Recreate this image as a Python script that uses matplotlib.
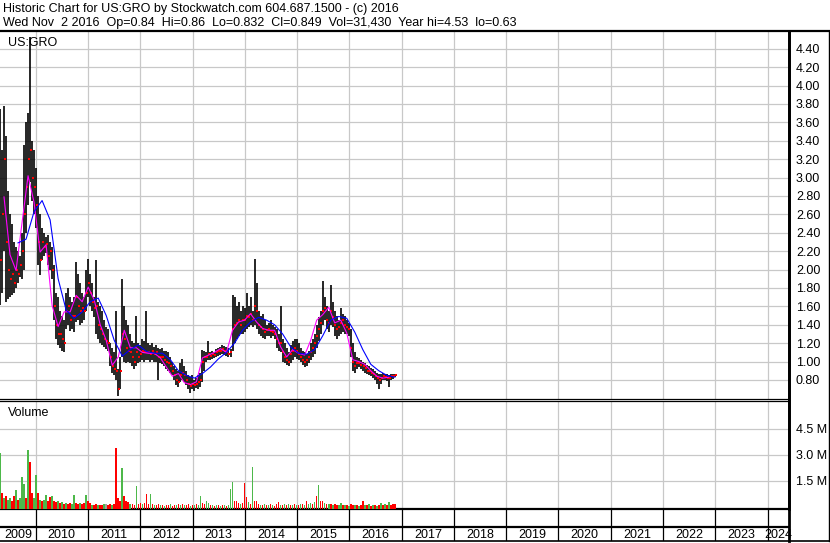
import numpy as np
import pandas as pd
import matplotlib
matplotlib.use('Agg')
import matplotlib.pyplot as plt
import matplotlib.dates as mdates
from matplotlib.lines import Line2D

plt.rcParams['font.family'] = ['Liberation Sans', 'DejaVu Sans']

# bi-weekly bars
bar_dates = pd.date_range('2009-04-27', periods=198, freq='14D')

hi = [3.75, 3.30, 3.78, 3.45, 2.85, 2.60, 2.50, 2.30, 2.25, 2.20,
      2.15, 2.40, 3.35, 3.60, 3.70, 4.53, 3.40, 3.30, 3.10, 2.80,
      2.60, 2.45, 2.40, 2.35, 2.38, 2.30, 2.25, 2.05, 1.75, 1.70,
      1.55, 1.50, 1.45, 1.75, 1.80, 1.70, 1.65, 1.70, 2.08, 1.95,
      1.85, 1.75, 1.70, 2.00, 2.12, 1.95, 1.85, 1.70, 2.10, 1.65,
      1.60, 1.55, 1.45, 1.38, 1.35, 1.20, 1.15, 1.10, 1.55, 0.92,
      1.05, 1.90, 1.60, 1.45, 1.40, 1.30, 1.22, 1.20, 1.50, 1.20,
      1.18, 1.25, 1.22, 1.55, 1.20, 1.18, 1.20, 1.16, 1.18, 1.15,
      1.14, 1.15, 1.12, 1.12, 1.10, 1.05, 1.00, 0.95, 0.92, 0.90,
      0.98, 1.03, 0.95, 0.90, 0.85, 0.83, 0.85, 0.80, 0.82, 0.85,
      0.88, 1.13, 1.12, 1.10, 1.22, 1.10, 1.12, 1.10, 1.14, 1.15,
      1.16, 1.18, 1.17, 1.16, 1.15, 1.14, 1.72, 1.70, 1.60, 1.65,
      1.55, 1.60, 1.58, 1.75, 1.60, 1.70, 1.55, 2.12, 1.85, 1.55,
      1.50, 1.52, 1.45, 1.40, 1.42, 1.45, 1.40, 1.38, 1.35, 1.30,
      1.60, 1.25, 1.20, 1.15, 1.10, 1.18, 1.22, 1.25, 1.24, 1.20,
      1.15, 1.12, 1.10, 1.08, 1.12, 1.20, 1.25, 1.30, 1.40, 1.48,
      1.55, 1.88, 1.70, 1.60, 1.55, 1.83, 1.65, 1.55, 1.50, 1.45,
      1.58, 1.52, 1.50, 1.45, 1.42, 1.35, 1.20, 1.10, 1.05, 1.04,
      1.02, 1.00, 0.98, 0.96, 0.95, 0.93, 0.92, 0.90, 0.88, 0.87,
      0.86, 0.88, 0.87, 0.86, 0.85, 0.86, 0.87, 0.86]

lo = [1.62, 1.75, 2.20, 1.65, 1.68, 1.70, 1.72, 1.75, 1.80, 1.85,
      1.92, 1.90, 2.00, 2.40, 2.70, 2.95, 2.75, 2.60, 2.45, 2.05,
      1.94, 2.10, 2.15, 2.18, 2.05, 2.00, 1.90, 1.45, 1.25, 1.18,
      1.15, 1.12, 1.10, 1.35, 1.40, 1.33, 1.35, 1.32, 1.43, 1.45,
      1.40, 1.42, 1.45, 1.55, 1.70, 1.60, 1.55, 1.48, 1.30, 1.25,
      1.20, 1.18, 1.16, 1.14, 1.12, 0.95, 0.88, 0.85, 0.80, 0.63,
      0.70, 1.05, 1.00, 0.98, 1.00, 0.98, 0.95, 0.92, 0.95, 0.98,
      1.00, 1.02, 1.00, 1.02, 1.02, 1.00, 1.02, 1.00, 1.00, 0.80,
      0.98, 0.97, 0.95, 0.92, 0.90, 0.88, 0.85, 0.80, 0.75, 0.72,
      0.78, 0.80, 0.78, 0.74, 0.70, 0.66, 0.70, 0.68, 0.71, 0.70,
      0.72, 0.78, 0.90, 1.00, 1.02, 1.02, 1.03, 1.04, 1.05, 1.06,
      1.07, 1.08, 1.07, 1.06, 1.05, 1.05, 1.12, 1.20, 1.25, 1.28,
      1.30, 1.30, 1.32, 1.35, 1.38, 1.40, 1.38, 1.40, 1.35, 1.30,
      1.28, 1.26, 1.25, 1.28, 1.28, 1.26, 1.28, 1.25, 1.15, 1.12,
      1.10, 1.00, 0.98, 0.96, 0.95, 0.98, 1.02, 1.05, 1.03, 1.02,
      1.00, 0.96, 0.94, 0.95, 0.98, 1.02, 1.05, 1.08, 1.15, 1.22,
      1.30, 1.40, 1.45, 1.35, 1.32, 1.40, 1.38, 1.28, 1.25, 1.28,
      1.30, 1.32, 1.30, 1.30, 1.28, 1.05, 0.90, 0.88, 0.92, 0.94,
      0.92, 0.90, 0.88, 0.86, 0.85, 0.84, 0.82, 0.80, 0.76, 0.70,
      0.76, 0.80, 0.80, 0.79, 0.72, 0.80, 0.81, 0.83]

cl = [2.10, 2.60, 3.20, 2.30, 2.00, 1.90, 1.95, 1.85, 2.00, 1.95,
      2.05, 2.20, 2.60, 2.90, 3.20, 3.30, 3.00, 2.90, 2.70, 2.30,
      2.10, 2.30, 2.25, 2.28, 2.15, 2.20, 2.00, 1.60, 1.40, 1.30,
      1.30, 1.25, 1.20, 1.55, 1.60, 1.45, 1.50, 1.50, 1.70, 1.60,
      1.55, 1.58, 1.55, 1.75, 1.85, 1.75, 1.65, 1.58, 1.60, 1.40,
      1.35, 1.30, 1.25, 1.22, 1.20, 1.05, 0.95, 0.92, 0.90, 0.70,
      0.90, 1.30, 1.25, 1.15, 1.12, 1.10, 1.05, 1.00, 1.10, 1.05,
      1.08, 1.12, 1.10, 1.10, 1.10, 1.08, 1.12, 1.08, 1.10, 1.05,
      1.05, 1.05, 1.02, 1.00, 0.98, 0.95, 0.90, 0.85, 0.80, 0.78,
      0.85, 0.88, 0.85, 0.80, 0.76, 0.73, 0.76, 0.74, 0.76, 0.78,
      0.80, 1.00, 1.05, 1.05, 1.08, 1.06, 1.08, 1.07, 1.10, 1.12,
      1.12, 1.14, 1.12, 1.10, 1.08, 1.10, 1.35, 1.40, 1.42, 1.45,
      1.40, 1.45, 1.45, 1.50, 1.48, 1.52, 1.45, 1.60, 1.55, 1.40,
      1.38, 1.35, 1.32, 1.34, 1.35, 1.33, 1.32, 1.30, 1.25, 1.20,
      1.20, 1.10, 1.05, 1.02, 1.00, 1.08, 1.12, 1.15, 1.12, 1.08,
      1.05, 1.02, 1.00, 1.02, 1.05, 1.10, 1.15, 1.20, 1.28, 1.35,
      1.42, 1.55, 1.58, 1.45, 1.42, 1.55, 1.48, 1.40, 1.35, 1.38,
      1.42, 1.45, 1.40, 1.38, 1.35, 1.15, 1.00, 0.95, 0.98, 0.98,
      0.96, 0.95, 0.93, 0.90, 0.90, 0.88, 0.86, 0.84, 0.82, 0.80,
      0.82, 0.84, 0.83, 0.82, 0.82, 0.84, 0.84, 0.849]

# volume in millions, G = up, R = down, N = unchanged
vol = [3.10, 0.80, 0.50, 0.60, 0.40, 0.50, 0.30, 0.60, 0.95, 0.40,
       0.50, 1.70, 1.30, 0.50, 3.25, 2.60, 0.80, 0.50, 1.80, 0.80,
       0.40, 0.30, 0.40, 0.65, 0.30, 0.55, 0.60, 0.30, 0.25, 0.30,
       0.20, 0.25, 0.15, 0.20, 0.15, 0.20, 0.15, 0.65, 0.20, 0.15,
       0.20, 0.15, 0.20, 0.65, 0.35, 0.20, 0.10, 0.10, 0.15, 0.10,
       0.10, 0.10, 0.12, 0.15, 0.10, 0.12, 0.10, 0.15, 3.40, 0.50,
       0.30, 2.25, 0.60, 0.30, 0.25, 0.15, 0.12, 0.10, 1.20, 0.15,
       0.20, 0.15, 0.20, 0.75, 0.15, 0.75, 0.15, 0.10, 0.10, 0.12,
       0.08, 0.10, 0.06, 0.10, 0.08, 0.12, 0.06, 0.10, 0.08, 0.12,
       0.10, 0.15, 0.08, 0.10, 0.12, 0.06, 0.10, 0.08, 0.12, 0.10,
       0.60, 0.20, 0.15, 0.35, 0.20, 0.08, 0.10, 0.06, 0.08, 0.10,
       0.06, 0.08, 0.10, 0.06, 0.08, 1.00, 1.40, 0.30, 0.35, 0.20,
       0.15, 0.20, 1.37, 0.55, 0.25, 0.15, 2.30, 0.30, 0.35, 0.15,
       0.10, 0.08, 0.12, 0.10, 0.08, 0.12, 0.10, 0.06, 0.12, 0.25,
       0.10, 0.08, 0.12, 0.10, 0.15, 0.08, 0.10, 0.12, 0.08, 0.10,
       0.12, 0.15, 0.10, 0.30, 0.15, 0.20, 0.15, 0.25, 0.60, 1.25,
       0.35, 0.30, 0.20, 0.15, 0.12, 0.15, 0.10, 0.12, 0.10, 0.08,
       0.20, 0.10, 0.08, 0.10, 0.06, 0.12, 0.10, 0.08, 0.10, 0.06,
       0.08, 0.30, 0.10, 0.08, 0.12, 0.06, 0.10, 0.08, 0.06, 0.10,
       0.20, 0.08, 0.12, 0.10, 0.25, 0.10, 0.15, 0.12]
vol_side = ("GRGRGGRRGR" "GGGRGRRGGR" "GRGGRRGRRG" "RGRGRRGGRR"
            "GRRGRRGRRG" "RRGNRRGRRR" "RGRRRGRRGR" "RGRRRGRGRR"
            "GRGRRGRRGR" "GRGRRGRGRG" "GRRGGRGRGR" "GRGRGGGRRR"
            "GRRRGRGRRR" "GRGRGRGRRR" "GRGRGRGRGR" "GRGRGGRGRG"
            "RRGRGRGRRG" "GRGRGRRGRG" "RRGRGRGRGR" "GRGRGRRR")

# moving averages
ma_fast_dates = pd.date_range('2009-05-25', periods=65, freq='42D')
ma_fast = [2.79, 2.16, 1.99, 2.51, 3.02, 2.73, 2.19, 2.27, 1.61, 1.38,
           1.54, 1.54, 1.72, 1.65, 1.81, 1.67, 1.40, 1.23, 0.96, 1.05,
           1.34, 1.15, 1.15, 1.10, 1.09, 1.09, 1.04, 0.94, 0.84, 0.87,
           0.77, 0.75, 0.78, 1.04, 1.07, 1.10, 1.14, 1.10, 1.34, 1.43,
           1.45, 1.52, 1.43, 1.36, 1.34, 1.34, 1.16, 1.05, 1.13, 1.09,
           1.07, 1.23, 1.45, 1.51, 1.59, 1.42, 1.45, 1.31, 1.02, 1.00,
           0.97, 0.90, 0.84, 0.82, 0.83]
ma_slow_dates = pd.date_range('2009-08-31', periods=48, freq='56D')
ma_slow = [2.29, 2.33, 2.63, 2.75, 2.54, 1.90, 1.56, 1.47, 1.54, 1.65,
           1.69, 1.50, 1.23, 1.06, 1.13, 1.18, 1.11, 1.09, 1.09, 1.02,
           0.90, 0.85, 0.82, 0.87, 0.94, 1.03, 1.10, 1.20, 1.34, 1.43,
           1.48, 1.45, 1.40, 1.30, 1.16, 1.09, 1.08, 1.13, 1.28, 1.45,
           1.49, 1.47, 1.32, 1.13, 0.97, 0.90, 0.85, 0.83]

years = list(range(2009, 2025))
price_ticks = [0.8, 1.0, 1.2, 1.4, 1.6, 1.8, 2.0, 2.2, 2.4, 2.6,
               2.8, 3.0, 3.2, 3.4, 3.6, 3.8, 4.0, 4.2, 4.4]
vol_ticks = [1.5, 3.0, 4.5]
vol_labels = ['1.5 M', '3.0 M', '4.5 M']

W, H = 830, 543
x0 = mdates.date2num(pd.Timestamp('2009-04-27'))
x1 = mdates.date2num(pd.Timestamp('2024-05-29'))
year_starts = [mdates.date2num(pd.Timestamp(f'{y}-01-01')) for y in years[1:]]
gridc = '#C8C8C8'
fs = 9.0


def box(a, b, c, d):
    return [a / W, 1 - d / H, (c - a) / W, (d - b) / H]


fig = plt.figure(figsize=(8.3, 5.43), dpi=100)
fig.patch.set_facecolor('white')

ax = fig.add_axes(box(0, 31, 789, 399))
axv = fig.add_axes(box(0, 401, 789, 509))
axb = fig.add_axes(box(0, 509, 789, 541))

bx = mdates.date2num(bar_dates)

# price panel
ax.vlines(bx, lo, hi, color='black', lw=1.2, zorder=3)
ax.plot(bx + 5, cl, 's', color='#FF0000', ms=1.8, mew=0, zorder=4)
ax.plot(mdates.date2num(ma_fast_dates), ma_fast, color='#FF00FF', lw=0.8, zorder=5)
ax.plot(mdates.date2num(ma_slow_dates), ma_slow, color='#0000FF', lw=0.8, zorder=6)
ax.set_xlim(x0, x1)
ax.set_ylim(0.593, 4.593)
ax.set_xticks(year_starts)
ax.set_yticks(price_ticks)
ax.set_yticklabels(['%.2f' % v for v in price_ticks])
ax.yaxis.tick_right()
ax.tick_params(axis='y', length=0, pad=5, labelsize=fs)
ax.tick_params(axis='x', length=0, labelbottom=False)
ax.grid(color=gridc, lw=0.9, zorder=0)
ax.set_axisbelow(True)
ax.spines['left'].set_visible(False)
ax.spines['top'].set_visible(False)
ax.spines['right'].set_linewidth(2.0)
ax.spines['bottom'].set_linewidth(0.9)
ax.text(8 / 789, 1 - 12 / 368, 'US:GRO', transform=ax.transAxes, fontsize=fs,
        va='center', ha='left', zorder=7)

# volume panel
cmap = {'G': '#4DB84A', 'R': '#FF0000', 'N': '#A0A0A0'}
vcols = [cmap[c] for c in vol_side]
vbottom = -0.14
axv.bar(bx, np.array(vol) - vbottom, bottom=vbottom, width=11, color=vcols,
        lw=0, zorder=3)
axv.set_xlim(x0, x1)
axv.set_ylim(vbottom, 6.09)
axv.set_xticks(year_starts)
axv.set_yticks(vol_ticks)
axv.set_yticklabels(vol_labels)
axv.yaxis.tick_right()
axv.tick_params(axis='y', length=0, pad=5, labelsize=fs)
axv.tick_params(axis='x', length=0, labelbottom=False)
axv.grid(color=gridc, lw=0.9, zorder=0)
axv.set_axisbelow(True)
axv.spines['left'].set_visible(False)
axv.spines['top'].set_linewidth(0.9)
axv.spines['right'].set_linewidth(2.0)
axv.spines['bottom'].set_linewidth(1.6)
axv.text(8 / 789, 1 - 12 / 108, 'Volume', transform=axv.transAxes, fontsize=fs,
         va='center', ha='left')

# year band
axb.set_xlim(x0, x1)
axb.set_ylim(0, 32)
axb.axis('off')
for xs in year_starts:
    axb.plot([xs, xs], [0, 32], color='black', lw=0.9)
axb.plot([x0, x1], [14, 14], color='black', lw=1.6)
for y in years:
    a = max(x0, mdates.date2num(pd.Timestamp(f'{y}-01-01')))
    b = min(x1, mdates.date2num(pd.Timestamp(f'{y + 1}-01-01')))
    axb.text((a + b) / 2, 6.5, str(y), ha='center', va='center', fontsize=fs)

# frame lines
fig.add_artist(Line2D([0, 1], [1 - 31 / H] * 2, color='black', lw=1.6))
fig.add_artist(Line2D([0, 1], [1 - 541 / H] * 2, color='black', lw=1.2))
fig.add_artist(Line2D([789 / W] * 2, [1 - 541 / H, 1 - 31 / H], color='black', lw=2.0))
fig.add_artist(Line2D([828.5 / W] * 2, [1 - 541 / H, 1 - 31 / H], color='black', lw=1.0))

fig.text(3 / W, 1 - 9 / H, 'Historic Chart for US:GRO by Stockwatch.com 604.687.1500 - (c) 2016',
         fontsize=fs, va='center', ha='left')
fig.text(3 / W, 1 - 23 / H,
         'Wed Nov  2 2016  Op=0.84  Hi=0.86  Lo=0.832  Cl=0.849  Vol=31,430  Year hi=4.53  lo=0.63',
         fontsize=fs, va='center', ha='left')

fig.savefig('out.png', dpi=100)
